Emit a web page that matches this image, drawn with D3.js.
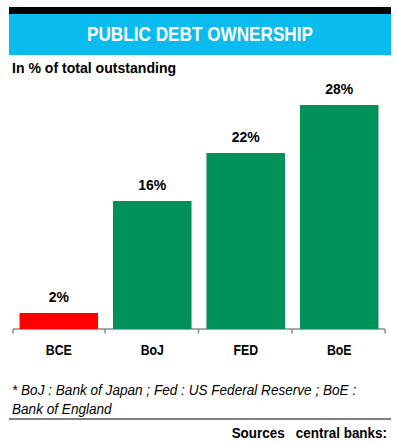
<!DOCTYPE html>
<html>
<head>
<meta charset="utf-8">
<script src="https://cdn.jsdelivr.net/npm/d3@7"></script>
<style>
  body { margin: 0; background: #fff; }
  text { font-family: "Liberation Sans", Arial, sans-serif; }
</style>
</head>
<body>
<div id="mainDiv"></div>
<script>
'use strict';

var banks  = ['BCE', 'BoJ', 'FED', 'BoE'];
var shares = [2, 16, 22, 28];
var colors = ['#ff0000', '#00905a', '#00905a', '#00905a'];

var title    = 'PUBLIC DEBT OWNERSHIP';
var subtitle = 'In % of total outstanding';
var noteLines = ['* BoJ : Bank of Japan ; Fed : US Federal Reserve ; BoE :', 'Bank of England'];
var source   = 'Sources   central banks:';

var chart = {};
chart.width = 397;
chart.height = 444;

chart.xScale = d3.scaleBand().domain(banks).range([13, 385]).paddingInner(0.16).paddingOuter(0.07);
chart.yScale = d3.scaleLinear().domain([0, 30]).range([329, 89]);

// squeeze text horizontally, the original uses a narrow face
chart.narrow = function (sel, factor) {
    sel.each(function () {
        var w = this.getComputedTextLength();
        d3.select(this).attr('textLength', w * factor).attr('lengthAdjust', 'spacingAndGlyphs');
    });
};

chart.start = function () {
    var svg = d3.select('#mainDiv').append('svg')
        .attr('width', chart.width)
        .attr('height', chart.height);

    // header
    svg.append('rect').attr('x', 9).attr('y', 7).attr('width', 382).attr('height', 7).attr('fill', '#000');
    svg.append('rect').attr('x', 9).attr('y', 14).attr('width', 382).attr('height', 41).attr('fill', '#09bbee');
    svg.append('text')
        .attr('x', 200).attr('y', 41)
        .attr('text-anchor', 'middle')
        .attr('fill', '#fff')
        .attr('font-weight', 'bold')
        .attr('font-size', 19.5)
        .text(title)
        .call(chart.narrow, 0.88);

    svg.append('text')
        .attr('x', 12).attr('y', 73)
        .attr('font-weight', 'bold')
        .attr('font-size', 14.5)
        .text(subtitle)
        .call(chart.narrow, 0.97);

    var data = banks.map(function (b, i) { return {bank: b, value: shares[i], color: colors[i]}; });

    // axis
    var axis = svg.append('g').attr('transform', 'translate(0,329)');
    axis.append('line').attr('x1', 13).attr('x2', 385).attr('stroke', '#8c8c8c').attr('stroke-width', 1.5);
    var step = chart.xScale.step();
    var tickXs = banks.map(function (b) { return chart.xScale(b) - chart.xScale.paddingInner() * step / 2 - 0.5; });
    tickXs.push(385);
    tickXs[0] = 13;
    axis.selectAll('line.tick').data(tickXs).enter().append('line')
        .attr('class', 'tick')
        .attr('x1', function (d) { return d; }).attr('x2', function (d) { return d; })
        .attr('y1', 0).attr('y2', 4.5)
        .attr('stroke', '#8c8c8c').attr('stroke-width', 1.5);

    svg.selectAll('rect.bar').data(data).enter().append('rect')
        .attr('class', 'bar')
        .attr('x', function (d) { return chart.xScale(d.bank); })
        .attr('width', chart.xScale.bandwidth())
        .attr('y', function (d) { return chart.yScale(d.value); })
        .attr('height', function (d) { return chart.yScale(0) - chart.yScale(d.value); })
        .attr('fill', function (d) { return d.color; });

    svg.selectAll('text.val').data(data).enter().append('text')
        .attr('class', 'val')
        .attr('x', function (d) { return chart.xScale(d.bank) + chart.xScale.bandwidth() / 2; })
        .attr('y', function (d) { return chart.yScale(d.value) - 11; })
        .attr('text-anchor', 'middle')
        .attr('font-weight', 'bold')
        .attr('font-size', 14)
        .text(function (d) { return d.value + '%'; });

    svg.selectAll('text.cat').data(data).enter().append('text')
        .attr('class', 'cat')
        .attr('x', function (d) { return chart.xScale(d.bank) + chart.xScale.bandwidth() / 2; })
        .attr('y', 355)
        .attr('text-anchor', 'middle')
        .attr('font-weight', 'bold')
        .attr('font-size', 14)
        .text(function (d) { return d.bank; })
        .call(chart.narrow, 0.88);

    // footnote
    svg.selectAll('text.note').data(noteLines).enter().append('text')
        .attr('class', 'note')
        .attr('x', 12)
        .attr('y', function (d, i) { return 395 + i * 19; })
        .attr('font-style', 'italic')
        .attr('font-size', 14)
        .text(function (d) { return d; })
        .call(chart.narrow, 0.97);

    svg.append('line').attr('x1', 9).attr('x2', 391).attr('y1', 419).attr('y2', 419)
        .attr('stroke', '#000').attr('stroke-width', 1.2);

    svg.append('text')
        .attr('x', 387).attr('y', 438)
        .attr('text-anchor', 'end')
        .attr('font-weight', 'bold')
        .attr('font-size', 14)
        .style('white-space', 'pre')
        .text(source)
        .call(chart.narrow, 0.96);
};

window.onload = chart.start;
</script>
</body>
</html>
